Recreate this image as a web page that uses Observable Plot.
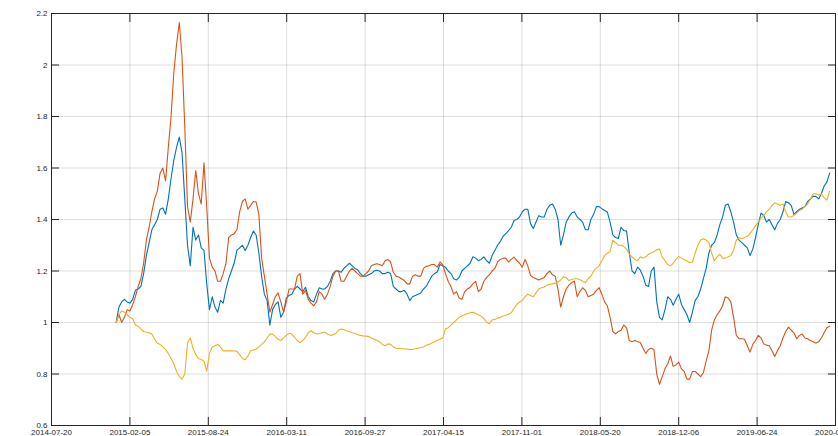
<!DOCTYPE html>
<html>
<head>
<meta charset="utf-8">
<script src="https://cdn.jsdelivr.net/npm/d3@7"></script>
<script src="https://cdn.jsdelivr.net/npm/@observablehq/plot@0.6"></script>
<style>
  html, body { margin: 0; padding: 0; background: #fff; }
</style>
</head>
<body>
<div id="chart"></div>
<script>
const startDate = "2015-01-01";
const stepDays = 7;

const seriesNames = ["Series 1", "Series 2", "Series 3"];
const seriesColors = ["#0072BD", "#D95319", "#EDB120"];

const blueValues = [
  1.00, 1.06, 1.08, 1.09, 1.08, 1.075, 1.09, 1.125, 1.13, 1.14,
  1.19, 1.26, 1.31, 1.36, 1.38, 1.40, 1.44, 1.445, 1.42, 1.48,
  1.56, 1.63, 1.68, 1.72, 1.66, 1.48, 1.30, 1.22, 1.37, 1.32,
  1.34, 1.29, 1.28, 1.15, 1.05, 1.10, 1.06, 1.04, 1.086, 1.075,
  1.13, 1.17, 1.20, 1.23, 1.28, 1.29, 1.30, 1.28, 1.30, 1.33,
  1.355, 1.34, 1.27, 1.18, 1.11, 1.086, 0.99, 1.05, 1.07, 1.08,
  1.02, 1.04, 1.095, 1.105, 1.11, 1.13, 1.14, 1.13, 1.12, 1.137,
  1.10, 1.085, 1.08, 1.11, 1.135, 1.13, 1.13, 1.14, 1.16, 1.19,
  1.20, 1.20, 1.195, 1.21, 1.22, 1.23, 1.22, 1.21, 1.205, 1.19,
  1.18, 1.18, 1.185, 1.19, 1.20, 1.203, 1.20, 1.19, 1.19, 1.195,
  1.19, 1.14, 1.13, 1.12, 1.12, 1.125, 1.11, 1.085, 1.10, 1.105,
  1.11, 1.115, 1.13, 1.14, 1.16, 1.18, 1.19, 1.196, 1.225, 1.22,
  1.215, 1.20, 1.19, 1.17, 1.165, 1.175, 1.20, 1.21, 1.22, 1.23,
  1.255, 1.25, 1.24, 1.245, 1.255, 1.24, 1.23, 1.26, 1.28, 1.30,
  1.315, 1.335, 1.345, 1.357, 1.37, 1.396, 1.40, 1.41, 1.43, 1.44,
  1.44, 1.384, 1.365, 1.39, 1.415, 1.41, 1.41, 1.44, 1.455, 1.46,
  1.44, 1.40, 1.30, 1.34, 1.39, 1.41, 1.425, 1.43, 1.41, 1.40,
  1.39, 1.36, 1.36, 1.40, 1.42, 1.45, 1.45, 1.442, 1.435, 1.429,
  1.39, 1.34, 1.33, 1.326, 1.37, 1.357, 1.355, 1.27, 1.20, 1.19,
  1.215, 1.203, 1.18, 1.145, 1.14, 1.20, 1.215, 1.08, 1.02, 1.01,
  1.05, 1.10, 1.09, 1.067, 1.09, 1.11, 1.07, 1.05, 1.03, 1.00,
  1.04, 1.086, 1.10, 1.13, 1.17, 1.21, 1.27, 1.30, 1.31, 1.34,
  1.38, 1.41, 1.455, 1.46, 1.43, 1.39, 1.34, 1.32, 1.31, 1.30,
  1.29, 1.26, 1.285, 1.33, 1.38, 1.425, 1.415, 1.39, 1.40, 1.38,
  1.36, 1.385, 1.40, 1.43, 1.47, 1.465, 1.455, 1.42, 1.43, 1.44,
  1.445, 1.45, 1.47, 1.48, 1.49, 1.49, 1.48, 1.50, 1.53, 1.545,
  1.58
];

const redValues = [
  1.00, 1.03, 1.00, 1.02, 1.05, 1.045, 1.07, 1.10, 1.14, 1.17,
  1.23, 1.32, 1.37, 1.43, 1.48, 1.51, 1.58, 1.60, 1.55, 1.68,
  1.80, 1.97, 2.08, 2.165, 2.03, 1.76, 1.45, 1.39, 1.48, 1.59,
  1.50, 1.46, 1.62, 1.45, 1.25, 1.215, 1.20, 1.16, 1.16, 1.19,
  1.23, 1.33, 1.34, 1.345, 1.36, 1.43, 1.47, 1.48, 1.44, 1.455,
  1.47, 1.468, 1.42, 1.25, 1.18, 1.11, 1.04, 1.07, 1.10, 1.115,
  1.08, 1.04, 1.08, 1.13, 1.13, 1.13, 1.18, 1.19, 1.11, 1.125,
  1.09, 1.075, 1.065, 1.08, 1.12, 1.11, 1.09, 1.11, 1.14, 1.18,
  1.20, 1.20, 1.16, 1.16, 1.18, 1.20, 1.21, 1.20, 1.19, 1.18,
  1.18, 1.19, 1.20, 1.22, 1.225, 1.228, 1.225, 1.22, 1.24, 1.245,
  1.235, 1.195, 1.18, 1.177, 1.17, 1.163, 1.15, 1.15, 1.18, 1.185,
  1.18, 1.18, 1.21, 1.218, 1.22, 1.225, 1.225, 1.215, 1.235, 1.225,
  1.19, 1.16, 1.14, 1.11, 1.12, 1.095, 1.09, 1.12, 1.13, 1.137,
  1.15, 1.16, 1.12, 1.13, 1.16, 1.175, 1.185, 1.20, 1.21, 1.235,
  1.245, 1.25, 1.25, 1.235, 1.245, 1.254, 1.24, 1.23, 1.215, 1.245,
  1.22, 1.183, 1.175, 1.17, 1.165, 1.17, 1.175, 1.19, 1.20, 1.185,
  1.18, 1.13, 1.06, 1.10, 1.13, 1.145, 1.155, 1.16, 1.10, 1.12,
  1.135, 1.125, 1.10, 1.105, 1.11, 1.125, 1.135, 1.11, 1.08, 1.065,
  1.02, 0.965, 0.956, 0.965, 0.97, 0.99, 0.98, 0.93, 0.925, 0.93,
  0.925, 0.922, 0.90, 0.88, 0.895, 0.90, 0.895, 0.80, 0.76, 0.79,
  0.82, 0.84, 0.87, 0.83, 0.835, 0.846, 0.82, 0.81, 0.78, 0.78,
  0.81, 0.81, 0.80, 0.79, 0.805, 0.85, 0.89, 0.97, 1.01, 1.03,
  1.045, 1.065, 1.10, 1.095, 1.08, 1.02, 0.95, 0.937, 0.937, 0.935,
  0.91, 0.885, 0.915, 0.93, 0.95, 0.94, 0.917, 0.912, 0.91, 0.89,
  0.868, 0.89, 0.91, 0.94, 0.965, 0.982, 0.97, 0.96, 0.937, 0.95,
  0.955, 0.94, 0.937, 0.93, 0.925, 0.92, 0.925, 0.94, 0.96, 0.98,
  0.985
];

const yellowValues = [
  1.00, 1.03, 1.045, 1.04, 1.03, 1.02, 1.015, 0.99, 0.985, 0.975,
  0.965, 0.962, 0.96, 0.955, 0.935, 0.92, 0.915, 0.905, 0.895, 0.88,
  0.86, 0.84, 0.81, 0.79, 0.78, 0.80, 0.92, 0.94, 0.90, 0.875,
  0.86, 0.856, 0.85, 0.81, 0.88, 0.905, 0.91, 0.915, 0.905, 0.89,
  0.89, 0.89, 0.89, 0.89, 0.888, 0.875, 0.86, 0.855, 0.87, 0.89,
  0.893, 0.897, 0.905, 0.915, 0.925, 0.94, 0.955, 0.955, 0.945, 0.935,
  0.93, 0.94, 0.95, 0.958, 0.955, 0.943, 0.93, 0.922, 0.93, 0.943,
  0.96, 0.968, 0.96, 0.956, 0.957, 0.96, 0.963, 0.955, 0.95, 0.952,
  0.957, 0.97, 0.975, 0.972, 0.968, 0.965, 0.96, 0.957, 0.953, 0.95,
  0.948, 0.947, 0.946, 0.94, 0.935, 0.93, 0.925, 0.915, 0.91, 0.917,
  0.915, 0.905, 0.90, 0.899, 0.898, 0.898, 0.897, 0.895, 0.895, 0.898,
  0.90, 0.903, 0.905, 0.912, 0.915, 0.92, 0.925, 0.93, 0.935, 0.94,
  0.975, 0.98, 0.99, 1.00, 1.01, 1.02, 1.025, 1.03, 1.035, 1.038,
  1.04, 1.035, 1.03, 1.025, 1.015, 1.00, 0.995, 1.01, 1.012, 1.018,
  1.02, 1.025, 1.028, 1.032, 1.038, 1.055, 1.07, 1.08, 1.086, 1.10,
  1.11, 1.105, 1.10, 1.115, 1.13, 1.135, 1.138, 1.145, 1.148, 1.15,
  1.153, 1.157, 1.165, 1.178, 1.175, 1.163, 1.167, 1.17, 1.17, 1.166,
  1.16, 1.155, 1.17, 1.18, 1.20, 1.212, 1.22, 1.24, 1.26, 1.27,
  1.275, 1.32, 1.31, 1.30, 1.30, 1.295, 1.285, 1.265, 1.255, 1.245,
  1.24, 1.255, 1.25, 1.255, 1.265, 1.27, 1.275, 1.283, 1.285, 1.255,
  1.24, 1.225, 1.22, 1.23, 1.245, 1.256, 1.25, 1.245, 1.24, 1.232,
  1.235, 1.27, 1.30, 1.32, 1.325, 1.32, 1.31, 1.27, 1.24, 1.255,
  1.265, 1.25, 1.25, 1.255, 1.26, 1.28, 1.32, 1.33, 1.325, 1.33,
  1.335, 1.345, 1.36, 1.375, 1.39, 1.405, 1.415, 1.43, 1.44, 1.455,
  1.465, 1.46, 1.455, 1.46, 1.43, 1.41, 1.41, 1.416, 1.425, 1.435,
  1.44, 1.45, 1.46, 1.48, 1.50, 1.50, 1.495, 1.50, 1.485, 1.475,
  1.51
];

const xDomain = ["2014-07-20", "2020-01-10"];
const xTickLabels = [
  "2014-07-20", "2015-02-05", "2015-08-24", "2016-03-11", "2016-09-27",
  "2017-04-15", "2017-11-01", "2018-05-20", "2018-12-06", "2019-06-24", "2020-01-10"
];
const yTicks = [0.6, 0.8, 1, 1.2, 1.4, 1.6, 1.8, 2, 2.2];
const yDomain = [0.6, 2.2];

// ---- build table ----
const parse = d3.utcParse("%Y-%m-%d");
const start = parse(startDate);
const allValues = [blueValues, redValues, yellowValues];
const rows = [];
allValues.forEach((vals, s) => {
  vals.forEach((v, i) => {
    rows.push({date: d3.utcDay.offset(start, i * stepDays), value: v, series: seriesNames[s]});
  });
});
const xTicks = xTickLabels.map(parse);
const fmtDate = d3.utcFormat("%Y-%m-%d");
const fmtY = d3.format("~g");
const ink = "#262626";

const chart = Plot.plot({
  width: 838,
  height: 436,
  marginLeft: 51,
  marginRight: 3,
  marginTop: 13,
  marginBottom: 11,
  style: {
    fontFamily: "'Liberation Sans', Arial, Helvetica, sans-serif",
    fontSize: "8px",
    color: ink,
    background: "#fff",
    overflow: "visible"
  },
  x: {type: "utc", domain: xDomain.map(parse), label: null},
  y: {domain: yDomain, label: null},
  color: {domain: seriesNames, range: seriesColors},
  marks: [
    Plot.gridX({ticks: xTicks, stroke: ink, strokeOpacity: 0.15}),
    Plot.gridY({ticks: yTicks, stroke: ink, strokeOpacity: 0.15}),
    Plot.line(rows, {x: "date", y: "value", z: "series", stroke: "series", strokeWidth: 1.1}),
    Plot.frame({stroke: ink, strokeWidth: 1}),
    Plot.axisX({ticks: xTicks, anchor: "bottom", tickSize: -8, tickPadding: 12, tickFormat: fmtDate, label: null, stroke: ink, fill: ink}),
    Plot.axisX({ticks: xTicks, anchor: "top", tickSize: -8, tickFormat: () => "", label: null, stroke: ink}),
    Plot.axisY({ticks: yTicks, anchor: "left", tickSize: -8, tickPadding: 12, tickFormat: fmtY, label: null, stroke: ink, fill: ink}),
    Plot.axisY({ticks: yTicks, anchor: "right", tickSize: -8, tickFormat: () => "", label: null, stroke: ink})
  ]
});
document.getElementById("chart").appendChild(chart);
</script>
</body>
</html>
